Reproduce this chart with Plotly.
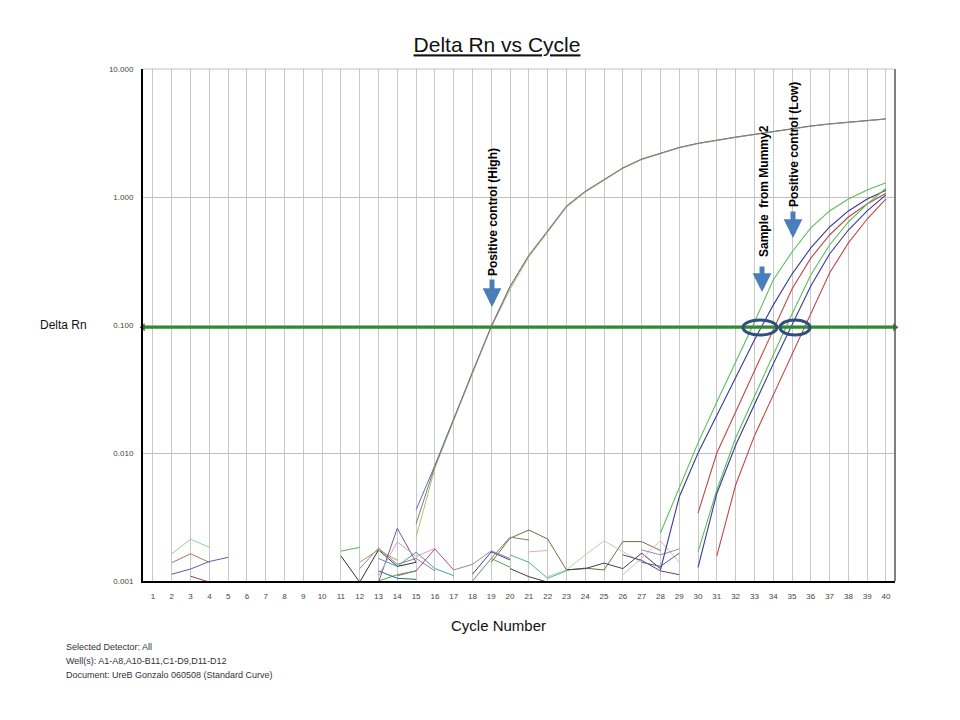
import plotly.graph_objects as go

# axis ticks
cycle_ticks = list(range(1, 41))
delta_ticks = [0.001, 0.01, 0.1, 1, 10]
delta_tick_text = ['0.001', '0.010', '0.100', '1.000', '10.000']
threshold = 0.096

# positive control (High), replicates, cycles 15-40
high_cycles = list(range(15, 41))
high_a = [0.0036, 0.0080, 0.0185, 0.043, 0.098, 0.20, 0.35, 0.54, 0.84, 1.10, 1.36, 1.68, 1.97,
          2.20, 2.43, 2.62, 2.78, 2.93, 3.08, 3.25, 3.42, 3.58, 3.72, 3.85, 3.97, 4.07]
high_b = [0.0022, 0.0076, 0.0180, 0.042, 0.096, 0.19, 0.34, 0.53, 0.83, 1.09, 1.35, 1.67, 1.96,
          2.19, 2.42, 2.61, 2.77, 2.92, 3.07, 3.24, 3.41, 3.57, 3.71, 3.84, 3.96, 4.06]
high_c = [0.0028, 0.0079, 0.0183, 0.043, 0.097, 0.20, 0.35, 0.54, 0.85, 1.11, 1.37, 1.69, 1.98,
          2.21, 2.44, 2.63, 2.79, 2.94, 3.09, 3.26, 3.43, 3.59, 3.73, 3.86, 3.98, 4.08]

# late curves: sample from Mummy2 and positive control (Low)
green1_cycles = list(range(28, 41))
green1 = [0.00237, 0.00533, 0.0120, 0.0250, 0.0514, 0.105, 0.225, 0.372, 0.573, 0.778, 0.964, 1.135, 1.29]
blue1_cycles = list(range(28, 41))
blue1 = [0.00122, 0.00453, 0.0100, 0.0198, 0.0393, 0.0764, 0.143, 0.250, 0.400, 0.583, 0.778, 0.964, 1.13]
red1_cycles = list(range(30, 41))
red1 = [0.00340, 0.0100, 0.0209, 0.0438, 0.0914, 0.191, 0.333, 0.505, 0.698, 0.882, 1.07]
green2_cycles = list(range(30, 41))
green2 = [0.00169, 0.00514, 0.0131, 0.0279, 0.0583, 0.122, 0.246, 0.422, 0.638, 0.88, 1.17]
blue2_cycles = list(range(30, 41))
blue2 = [0.00128, 0.00483, 0.0115, 0.0241, 0.0496, 0.100, 0.202, 0.359, 0.552, 0.778, 1.04]
red2_cycles = list(range(31, 41))
red2 = [0.00157, 0.00562, 0.0136, 0.0284, 0.0604, 0.126, 0.255, 0.438, 0.673, 0.965]

# baseline noise of the other wells (cycles, delta Rn)
noise_01 = ([2, 3, 4], [0.00163, 0.00212, 0.00183])
noise_02 = ([2, 3, 4], [0.00139, 0.00163, 0.00140])
noise_03 = ([2, 3, 4, 5], [0.00113, 0.00124, 0.00142, 0.00153])
noise_04 = ([3, 4], [0.00109, 0.00098])
noise_05 = ([11, 12], [0.00171, 0.00183])
noise_06 = ([11, 12, 13, 14, 15], [0.00157, 0.00098, 0.00175, 0.00130, 0.00140])
noise_07 = ([12, 13, 14, 15, 16], [0.00125, 0.00181, 0.00135, 0.00150, 0.00120])
noise_08 = ([12, 13, 14], [0.00140, 0.00175, 0.00145])
noise_09 = ([13, 14, 15], [0.00098, 0.00258, 0.00140])
noise_10 = ([13, 14, 15, 16], [0.00110, 0.00202, 0.00155, 0.00180])
noise_11 = ([13, 14, 15, 16, 17], [0.00150, 0.00130, 0.00168, 0.00125, 0.00110])
noise_12 = ([14, 15, 16, 17], [0.00110, 0.00120, 0.00178, 0.00122])
noise_13 = ([13, 14, 15], [0.00100, 0.00112, 0.00120])
noise_14 = ([13, 14, 15], [0.00120, 0.00105, 0.00103])
noise_15 = ([17, 18, 19, 20], [0.00122, 0.00135, 0.00172, 0.00150])
noise_16 = ([18, 19, 20], [0.00113, 0.00169, 0.00146])
noise_17 = ([18, 19, 20], [0.00100, 0.00150, 0.00128])
noise_18 = ([19, 20, 21, 22, 23, 24, 25, 26, 27, 28],
            [0.00140, 0.00216, 0.00250, 0.00213, 0.00122, 0.00126, 0.00122, 0.00203, 0.00203, 0.00173])
noise_19 = ([21, 22], [0.00169, 0.00173])
noise_20 = ([20, 21, 22], [0.00125, 0.00108, 0.00098])
noise_21 = ([19, 20, 21], [0.00150, 0.00220, 0.00209])
noise_22 = ([22, 23, 24, 25, 26, 27], [0.00108, 0.00122, 0.00160, 0.00206, 0.00170, 0.00140])
noise_23 = ([23, 24, 25, 26, 27, 28], [0.00122, 0.00125, 0.00138, 0.00125, 0.00165, 0.00125])
noise_24 = ([26, 27, 28, 29], [0.00112, 0.00150, 0.00206, 0.00140])
noise_25 = ([26, 27, 28, 29], [0.00160, 0.00145, 0.00120, 0.00112])
noise_26 = ([27, 28, 29], [0.00140, 0.00130, 0.00165])
noise_27 = ([27, 28, 29], [0.00175, 0.00160, 0.00178])
noise_28 = ([20, 21, 22, 23], [0.00160, 0.00140, 0.00105, 0.00120])

footer_lines = ['Selected Detector: All',
                'Well(s): A1-A8,A10-B11,C1-D9,D11-D12',
                'Document: UreB Gonzalo 060508 (Standard Curve)']

# plot area in screen pixels; the page body adds an 8px offset
OFF = 8
L, R, T, B = 143, 895, 69, 581


def px(x):
    return (x - L) / (R - L)


def py(y):
    return (B - y) / (B - T)


fig = go.Figure()

noise_list = [noise_01, noise_02, noise_03, noise_04, noise_05, noise_06, noise_07, noise_08,
              noise_09, noise_10, noise_11, noise_12, noise_13, noise_14, noise_15, noise_16,
              noise_17, noise_18, noise_19, noise_20, noise_21, noise_22, noise_23, noise_24,
              noise_25, noise_26, noise_27, noise_28]
noise_colors = ['#8fd48f', '#c06a6a', '#5a5ab8', '#a04040', '#5cb05c', '#303030', '#9a7a9a',
                '#a0a060', '#6a5aa0', '#e0a0a8', '#40a0a0', '#b04890', '#40b040', '#207070',
                '#909090', '#3a3a9a', '#50a050', '#7a6a3a', '#e0b0b0', '#404040', '#808080',
                '#b8d0b8', '#404050', '#e8b8b8', '#6a3a7a', '#5a5aa0', '#9a8aaa', '#50b0a0']
for (nx, ny), col in zip(noise_list, noise_colors):
    fig.add_trace(go.Scatter(x=nx, y=ny, mode='lines', line=dict(color=col, width=1),
                             showlegend=False, hoverinfo='skip'))

for vals, col in [(high_a, '#5a6ab0'), (high_b, '#b0c070'), (high_c, '#7a7a7a')]:
    fig.add_trace(go.Scatter(x=high_cycles, y=vals, mode='lines', line=dict(color=col, width=1),
                             showlegend=False))

for cx, vals, col in [(green1_cycles, green1, '#5cbf5c'), (blue1_cycles, blue1, '#3a3a9a'),
                      (red1_cycles, red1, '#c04848'), (green2_cycles, green2, '#5cbf5c'),
                      (blue2_cycles, blue2, '#3a3a9a'), (red2_cycles, red2, '#c04848')]:
    fig.add_trace(go.Scatter(x=cx, y=vals, mode='lines', line=dict(color=col, width=1.1),
                             showlegend=False))

# threshold line with arrow ends
fig.add_trace(go.Scatter(x=[0.47, 40.48], y=[threshold, threshold], mode='lines+markers',
                         line=dict(color='#2e8b2e', width=3),
                         marker=dict(symbol=['triangle-left', 'triangle-right'], size=7, color='#2e7a2e'),
                         cliponaxis=False, showlegend=False))

fig.update_layout(
    width=960, height=720,
    margin=dict(l=L - OFF, r=960 - (R - OFF), t=T - OFF, b=720 - (B - OFF)),
    paper_bgcolor='white', plot_bgcolor='white',
    font=dict(family='Arial, Liberation Sans', color='#222'),
    title=dict(text='<u>Delta Rn vs Cycle</u>', x=(497 - OFF) / 960, xanchor='center',
               y=1 - (45 - OFF) / 720, yanchor='middle', font=dict(size=21, color='#111')),
    xaxis=dict(range=[0.47, 40.48], tickvals=cycle_ticks, showgrid=True, gridcolor='#c8c8c8',
               gridwidth=1, showline=True, linecolor='black', linewidth=2, zeroline=False,
               ticks='', tickfont=dict(size=8, color='#444'), ticklabelstandoff=6),
    yaxis=dict(type='log', range=[-3, 1], tickvals=delta_ticks, ticktext=delta_tick_text,
               showgrid=True, gridcolor='#c0c0c0', gridwidth=1, showline=True, linecolor='black',
               linewidth=2, zeroline=False, ticks='', tickfont=dict(size=8, color='#444'),
               ticklabelstandoff=6),
)

# right border and top edge
fig.add_shape(type='line', xref='paper', yref='paper', x0=1, x1=1, y0=0, y1=1,
              line=dict(color='#555', width=1.5))
fig.add_shape(type='line', xref='paper', yref='paper', x0=0, x1=1, y0=1, y1=1,
              line=dict(color='#c0c0c0', width=1))

# circles at the threshold crossings
for x0, x1 in [(743, 777), (780, 810)]:
    fig.add_shape(type='circle', xref='paper', yref='paper', x0=px(x0), x1=px(x1),
                  y0=py(335), y1=py(320), line=dict(color='#2f4f7f', width=3))

# axis titles
fig.add_annotation(text='Cycle Number', xref='paper', yref='paper', x=px(498), y=py(625),
                   xanchor='center', yanchor='middle', showarrow=False,
                   font=dict(size=15, color='#111'))
fig.add_annotation(text='Delta Rn', xref='paper', yref='paper', x=px(63), y=py(325),
                   xanchor='center', yanchor='middle', showarrow=False,
                   font=dict(size=12, color='#111'))

# vertical labels with arrows
for label, lx, ly, ax_x, head_y, tail_y in [
        ('Positive control (High)', 493, 212, 492, 307, 278),
        ('Sample  from Mummy2', 764, 191, 762, 292, 265),
        ('Positive control (Low)', 794, 145, 793, 238, 210)]:
    fig.add_annotation(text='<b>' + label + '</b>', xref='paper', yref='paper', x=px(lx), y=py(ly),
                       xanchor='center', yanchor='middle', textangle=-90, showarrow=False,
                       font=dict(size=12, color='black'))
    fig.add_annotation(text='', xref='paper', yref='paper', x=px(ax_x), y=py(head_y),
                       ax=0, ay=tail_y - head_y, showarrow=True, arrowhead=2, arrowsize=0.75,
                       arrowwidth=5, arrowcolor='#4a7ebb')

# footer
for i, line in enumerate(footer_lines):
    fig.add_annotation(text=line, xref='paper', yref='paper', x=px(64), y=py(647 + 14 * i),
                       xanchor='left', yanchor='middle', showarrow=False,
                       font=dict(size=9, color='#333'))

fig.write_html('out.html')
